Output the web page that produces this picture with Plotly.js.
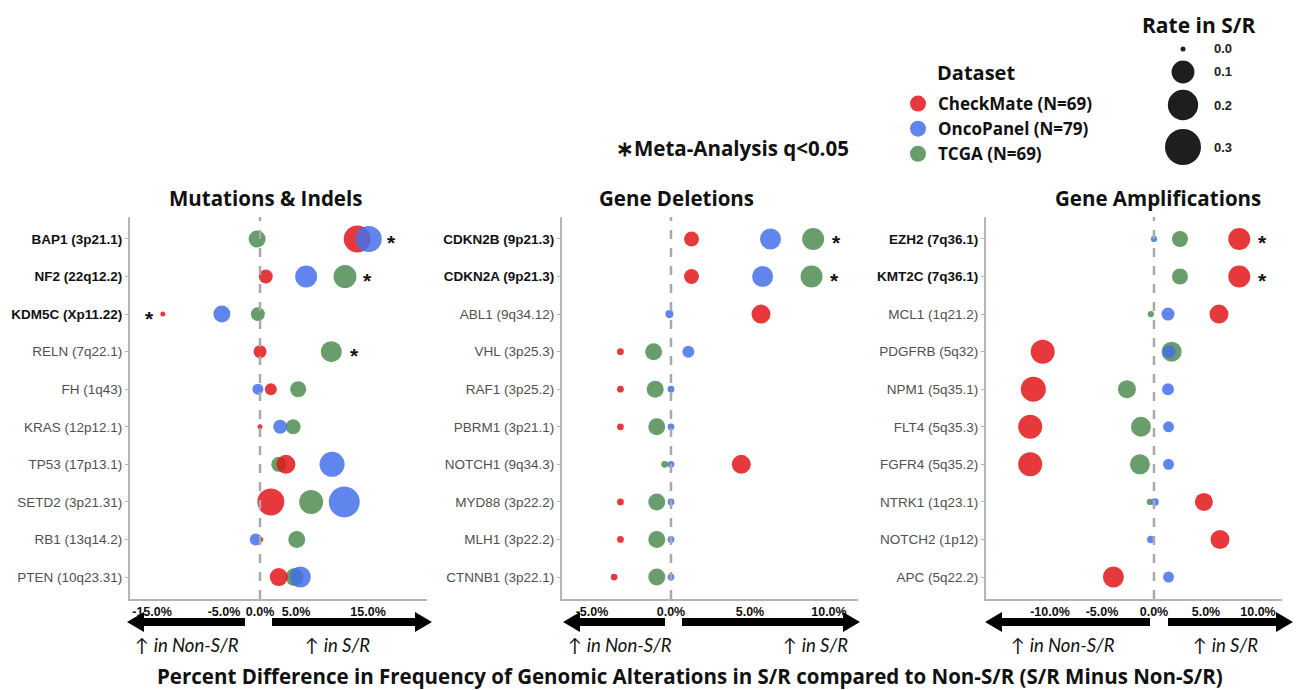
<!DOCTYPE html>
<html>
<head>
<meta charset="utf-8">
<script src="https://cdn.plot.ly/plotly-3.0.1.min.js"></script>
<style>
  html, body { margin: 0; padding: 0; background: #ffffff; }
  #chart { width: 1297px; height: 690px; }
</style>
</head>
<body>
<div id="chart"></div>
<script>
// ---------------- data ----------------
const datasets = ["CheckMate (N=69)", "OncoPanel (N=79)", "TCGA (N=69)"];

// Mutations & Indels
const mutGenes = ["BAP1 (3p21.1)", "NF2 (22q12.2)", "KDM5C (Xp11.22)", "RELN (7q22.1)", "FH (1q43)",
                  "KRAS (12p12.1)", "TP53 (17p13.1)", "SETD2 (3p21.31)", "RB1 (13q14.2)", "PTEN (10q23.31)"];
const mutBold = ["BAP1 (3p21.1)", "NF2 (22q12.2)", "KDM5C (Xp11.22)"];
const mutCheckMateDiff = [13.5, 0.8, -13.5, 0.0, 1.5, 0.0, 3.6, 1.5, 0.1, 2.6];
const mutCheckMateRate = [0.151, 0.025, 0.0, 0.02, 0.015, 0.0, 0.061, 0.151, 0.0, 0.053];
const mutOncoDiff = [15.1, 6.4, -5.3, null, -0.3, 2.8, 10.0, 11.7, -0.6, 5.6];
const mutOncoRate = [0.138, 0.09, 0.045, null, 0.011, 0.025, 0.125, 0.211, 0.015, 0.08];
const mutTcgaDiff = [-0.4, 11.8, -0.3, 9.9, 5.3, 4.6, 2.6, 7.1, 5.1, 4.8];
const mutTcgaRate = [0.045, 0.101, 0.025, 0.08, 0.038, 0.031, 0.031, 0.113, 0.045, 0.053];
const mutSig = {"BAP1 (3p21.1)": 1, "NF2 (22q12.2)": 1, "KDM5C (Xp11.22)": -1, "RELN (7q22.1)": 1};
const mutTicks = [-15, -5, 0, 5, 15];

// Gene Deletions
const delGenes = ["CDKN2B (9p21.3)", "CDKN2A (9p21.3)", "ABL1 (9q34.12)", "VHL (3p25.3)", "RAF1 (3p25.2)",
                  "PBRM1 (3p21.1)", "NOTCH1 (9q34.3)", "MYD88 (3p22.2)", "MLH1 (3p22.2)", "CTNNB1 (3p22.1)"];
const delBold = ["CDKN2B (9p21.3)", "CDKN2A (9p21.3)"];
const delCheckMateDiff = [1.3, 1.3, 5.7, -3.2, -3.2, -3.2, 4.45, -3.2, -3.2, -3.6];
const delCheckMateRate = [0.031, 0.031, 0.061, 0.001, 0.001, 0.001, 0.061, 0.001, 0.001, 0.001];
const delOncoDiff = [6.3, 5.8, -0.1, 1.1, 0.0, 0.0, 0.0, 0.0, 0.0, 0.0];
const delOncoRate = [0.08, 0.08, 0.003, 0.015, 0.001, 0.001, 0.001, 0.001, 0.001, 0.001];
const delTcgaDiff = [9.0, 8.9, null, -1.1, -1.0, -0.9, -0.4, -0.9, -0.9, -0.9];
const delTcgaRate = [0.09, 0.09, null, 0.045, 0.045, 0.045, 0.001, 0.045, 0.045, 0.045];
const delSig = {"CDKN2B (9p21.3)": 1, "CDKN2A (9p21.3)": 1};
const delTicks = [-5, 0, 5, 10];

// Gene Amplifications
const ampGenes = ["EZH2 (7q36.1)", "KMT2C (7q36.1)", "MCL1 (1q21.2)", "PDGFRB (5q32)", "NPM1 (5q35.1)",
                  "FLT4 (5q35.3)", "FGFR4 (5q35.2)", "NTRK1 (1q23.1)", "NOTCH2 (1p12)", "APC (5q22.2)"];
const ampBold = ["EZH2 (7q36.1)", "KMT2C (7q36.1)"];
const ampCheckMateDiff = [8.2, 8.2, 6.25, -10.7, -11.6, -11.9, -11.9, 4.8, 6.35, -3.9];
const ampCheckMateRate = [0.09, 0.09, 0.061, 0.113, 0.125, 0.113, 0.113, 0.053, 0.061, 0.08];
const ampOncoDiff = [0.0, null, 1.35, 1.45, 1.35, 1.4, 1.4, 0.1, -0.3, 1.4];
const ampOncoRate = [0.0005, null, 0.02, 0.02, 0.015, 0.011, 0.011, 0.002, 0.002, 0.011];
const ampTcgaDiff = [2.5, 2.5, -0.3, 1.7, -2.6, -1.25, -1.35, -0.4, null, null];
const ampTcgaRate = [0.038, 0.038, 0.0005, 0.07, 0.053, 0.07, 0.07, 0.0005, null, null];
const ampSig = {"EZH2 (7q36.1)": 1, "KMT2C (7q36.1)": 1};
const ampTicks = [-10, -5, 0, 5, 10];

// size legend
const rateLegendValues = [0.0, 0.1, 0.2, 0.3];

// ---------------- styling helpers ----------------
const W = 1297, H = 690;
const px = v => v / W;
const py = v => 1 - v / H;

const colors = {"CheckMate (N=69)": "#e0161a", "OncoPanel (N=79)": "#4470ea", "TCGA (N=69)": "#4f8c52"};
const markerOpacity = 0.85;
const headFont = "Open Sans, sans-serif";
const tickFamily = "'Liberation Sans', Arial, sans-serif";

// marker area grows with the rate (diameter in px)
const sizeOf = r => (r === null ? 0 : 5 + 31 * Math.sqrt(r / 0.3));

const panels = [
  { genes: mutGenes, bold: mutBold, sig: mutSig, ticks: mutTicks,
    series: [[mutTcgaDiff, mutTcgaRate, "TCGA (N=69)"], [mutCheckMateDiff, mutCheckMateRate, "CheckMate (N=69)"], [mutOncoDiff, mutOncoRate, "OncoPanel (N=79)"]],
    title: "Mutations & Indels", titleX: 265,
    dom: [130, 427], range: [-18.06, 23.19],
    arrows: [[127, 245], [432, 272]], labels: [187, 337] },
  { genes: delGenes, bold: delBold, sig: delSig, ticks: delTicks,
    series: [[delTcgaDiff, delTcgaRate, "TCGA (N=69)"], [delCheckMateDiff, delCheckMateRate, "CheckMate (N=69)"], [delOncoDiff, delOncoRate, "OncoPanel (N=79)"]],
    title: "Gene Deletions", titleX: 676,
    dom: [562, 858], range: [-6.9, 11.84],
    arrows: [[563, 665], [860, 682]], labels: [620, 815] },
  { genes: ampGenes, bold: ampBold, sig: ampSig, ticks: ampTicks,
    series: [[ampTcgaDiff, ampTcgaRate, "TCGA (N=69)"], [ampCheckMateDiff, ampCheckMateRate, "CheckMate (N=69)"], [ampOncoDiff, ampOncoRate, "OncoPanel (N=79)"]],
    title: "Gene Amplifications", titleX: 1158,
    dom: [986, 1282], range: [-16.15, 12.31],
    arrows: [[985, 1150], [1293, 1168]], labels: [1063, 1225] }
];

const plotTop = 217, plotBottom = 599;
const traces = [];
const annotations = [];
const shapes = [];
const layout = {
  width: W, height: H,
  margin: {l: 0, r: 0, t: 0, b: 0},
  paper_bgcolor: "#ffffff", plot_bgcolor: "#ffffff",
  showlegend: true,
  font: {family: tickFamily, color: "#111"},
};

panels.forEach((p, i) => {
  const n = i === 0 ? "" : String(i + 1);
  const xa = "x" + n, ya = "y" + n;

  p.series.forEach(([diff, rate, name]) => {
    traces.push({
      type: "scatter", mode: "markers",
      x: diff, y: p.genes, xaxis: xa, yaxis: ya,
      name: name, legendgroup: name, showlegend: false,
      marker: { color: colors[name], opacity: markerOpacity, size: rate.map(sizeOf), sizemode: "diameter", line: {width: 0} },
      hovertemplate: "%{y}<br>" + name + ": %{x:.1f}%<extra></extra>"
    });
  });

  const ticktext = p.genes.map(g => p.bold.includes(g) ? '<b><span style="color:#111">' + g + '</span></b>' : g);

  layout["xaxis" + n] = {
    domain: [px(p.dom[0]), px(p.dom[1])], anchor: ya,
    range: p.range, fixedrange: true,
    showgrid: false, zeroline: false,
    showline: true, linecolor: "#b4b4b4", linewidth: 2,
    tickmode: "array", tickvals: p.ticks, ticktext: p.ticks.map(t => t.toFixed(1) + "%"),
    ticks: "", tickfont: {family: tickFamily, size: 12.5, weight: "bold", color: "#111"}
  };
  layout["yaxis" + n] = {
    domain: [py(plotBottom), py(plotTop)], anchor: xa,
    type: "category", categoryorder: "array", categoryarray: p.genes,
    range: [p.genes.length - 1 + 0.585, -0.585], fixedrange: true,
    showgrid: false, zeroline: false,
    showline: true, linecolor: "#b4b4b4", linewidth: 2,
    ticks: "outside", ticklen: 3, tickcolor: "#b4b4b4",
    tickmode: "array", tickvals: p.genes, ticktext: ticktext,
    tickfont: {family: tickFamily, size: 13.5, color: "#505050"}
  };

  // dashed reference line at zero difference
  shapes.push({ type: "line", xref: xa, yref: ya + " domain", x0: 0, x1: 0, y0: 0, y1: 1,
                line: {color: "#a9a9a9", width: 2.5, dash: "9px,9px"} });

  // panel title
  annotations.push({ xref: "paper", yref: "paper", x: px(p.titleX), y: py(198), xanchor: "center", yanchor: "middle",
                     text: "<b>" + p.title + "</b>", showarrow: false,
                     font: {family: headFont, size: 20.5, color: "#111"} });

  // meta-analysis significance stars beside the outermost point of the row
  Object.entries(p.sig).forEach(([gene, side]) => {
    const k = p.genes.indexOf(gene);
    const vals = p.series.map(s => s[0][k]).filter(v => v !== null);
    const xEdge = side > 0 ? Math.max(...vals) : Math.min(...vals);
    annotations.push({ xref: xa, yref: ya, x: xEdge, y: gene, xshift: side > 0 ? 23 : -13, yshift: -4,
                       text: "<b>*</b>", showarrow: false, xanchor: "center", yanchor: "middle",
                       font: {family: tickFamily, size: 21, color: "#111"} });
  });

  // direction arrows beneath the axis
  p.arrows.forEach(([tip, tail]) => {
    const dir = tail > tip ? 1 : -1;
    const hl = 17, hw = 10, sw = 4, y = 622;
    const base = tip + dir * hl;
    shapes.push({ type: "path", xref: "paper", yref: "paper", fillcolor: "#000", line: {width: 0},
      path: `M${px(tip)},${py(y)} L${px(base)},${py(y - hw)} L${px(base)},${py(y - sw)} L${px(tail)},${py(y - sw)} ` +
            `L${px(tail)},${py(y + sw)} L${px(base)},${py(y + sw)} L${px(base)},${py(y + hw)} Z` });
  });
  ["↑ <i>in Non-S/R</i>", "↑ <i>in S/R</i>"].forEach((t, j) => {
    annotations.push({ xref: "paper", yref: "paper", x: px(p.labels[j]), y: py(645), xanchor: "center", yanchor: "middle",
                       text: t, showarrow: false, font: {family: "Lato, sans-serif", size: 18.5, color: "#111"} });
  });
});

// dataset legend entries
datasets.forEach(name => {
  traces.push({ type: "scatter", mode: "markers", x: [null], y: [null], name: name, legendgroup: name,
                marker: {color: colors[name], opacity: markerOpacity, size: 16}, hoverinfo: "skip" });
});
layout.legend = {
  x: px(898), y: py(86), xanchor: "left", yanchor: "top",
  bgcolor: "rgba(0,0,0,0)", borderwidth: 0,
  itemsizing: "trace", tracegroupgap: 5, traceorder: "normal",
  font: {family: headFont, size: 17, weight: "bold", color: "#111"}
};
annotations.push({ xref: "paper", yref: "paper", x: px(935), y: py(73), xanchor: "left", yanchor: "middle",
                   text: "<b>Dataset</b>", showarrow: false, font: {family: headFont, size: 20, color: "#111"} });

// size legend
annotations.push({ xref: "paper", yref: "paper", x: px(1198), y: py(25), xanchor: "center", yanchor: "middle",
                   text: "<b>Rate in S/R</b>", showarrow: false, font: {family: headFont, size: 21, color: "#111"} });
const rateRowY = [49, 72, 105, 147];
rateLegendValues.forEach((r, j) => {
  const d = sizeOf(r);
  shapes.push({ type: "circle", xref: "paper", yref: "paper", xsizemode: "pixel", ysizemode: "pixel",
                xanchor: px(1183), yanchor: py(rateRowY[j]), x0: -d / 2, x1: d / 2, y0: -d / 2, y1: d / 2,
                fillcolor: "#1e1e1e", line: {width: 0} });
  annotations.push({ xref: "paper", yref: "paper", x: px(1212), y: py(rateRowY[j]), xanchor: "left", yanchor: "middle",
                     text: "<b>" + r.toFixed(1) + "</b>", showarrow: false,
                     font: {family: tickFamily, size: 13, color: "#222"} });
});

// significance note
annotations.push({ xref: "paper", yref: "paper", x: px(732), y: py(148), xanchor: "center", yanchor: "middle",
                   text: "<b>∗Meta-Analysis q&lt;0.05</b>", showarrow: false, font: {family: headFont, size: 20.5, color: "#111"} });

// shared x-axis caption
annotations.push({ xref: "paper", yref: "paper", x: px(690), y: py(676), xanchor: "center", yanchor: "middle",
                   text: "<b>Percent Difference in Frequency of Genomic Alterations in S/R compared to Non-S/R (S/R Minus Non-S/R)</b>",
                   showarrow: false, font: {family: headFont, size: 20.5, color: "#111"} });

layout.annotations = annotations;
layout.shapes = shapes;

Plotly.newPlot("chart", traces, layout, {staticPlot: true, displayModeBar: false});
</script>
</body>
</html>
